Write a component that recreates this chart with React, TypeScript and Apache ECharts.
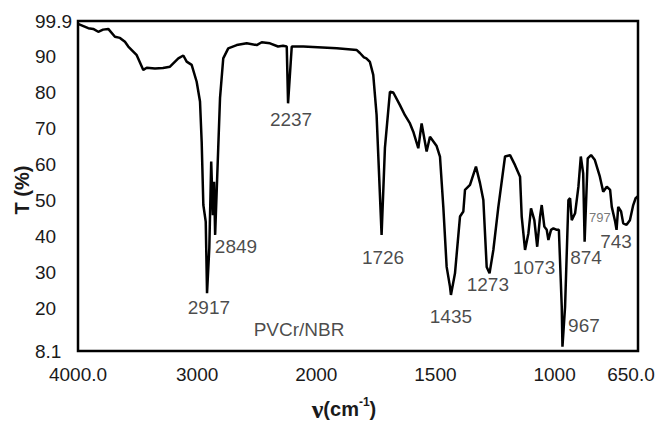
import React, { useEffect, useRef } from "react";
import * as echarts from "echarts";

// Spectrum: wavenumber (cm-1) and transmittance (%)
const WAVENUMBER = [
  4000, 3914, 3872, 3830, 3790, 3746, 3690, 3648, 3606, 3578, 3507, 3452, 3423, 3354, 3287, 3228,
  3158, 3116, 3088, 3046, 3004, 2976, 2962, 2948, 2928, 2917, 2898, 2882, 2868, 2858, 2849, 2823,
  2808, 2781, 2739, 2668, 2584, 2500, 2458, 2389, 2321, 2279, 2248, 2237, 2206, 2109, 1914, 1830,
  1817, 1800, 1790, 1775, 1761, 1747, 1726, 1712, 1691, 1677, 1649, 1628, 1607, 1593, 1572, 1558,
  1537, 1523, 1495, 1481, 1467, 1453, 1439, 1435, 1418, 1397, 1383, 1376, 1355, 1330, 1313, 1299,
  1285, 1273, 1257, 1236, 1208, 1187, 1166, 1145, 1138, 1124, 1110, 1099, 1085, 1073, 1061, 1054,
  1043, 1033, 1026, 1015, 1005, 991, 982, 970, 967, 956, 949, 942, 935, 928, 914, 900, 890, 880,
  874, 861, 847, 831, 810, 796, 781, 767, 760, 746, 740, 733, 721, 712, 698, 684, 670, 660, 650,
];
const TRANSMITTANCE = [
  99.1, 97.9, 97.7, 96.9, 97.5, 97.7, 95.5, 95.2, 94.1, 92.8, 90.4, 86.3, 86.9, 86.7, 86.8, 87.2,
  89.5, 90.3, 88.6, 87.7, 83.0, 77.5, 66.3, 48.7, 44.1, 24.2, 36.7, 60.8, 45.9, 55.2, 40.4, 64.6,
  78.5, 89.5, 92.3, 93.2, 93.7, 93.2, 94.0, 93.7, 92.8, 93.0, 92.8, 77.0, 92.8, 92.8, 92.3, 91.8,
  91.0, 89.8, 89.5, 88.5, 84.9, 73.8, 40.4, 64.6, 80.2, 80.0, 76.5, 73.7, 71.4, 69.1, 64.5, 71.4,
  63.6, 67.7, 65.1, 62.2, 48.2, 31.5, 26.0, 23.7, 29.7, 45.5, 46.9, 52.9, 54.3, 59.4, 54.8, 50.1,
  31.5, 29.7, 36.2, 48.2, 62.2, 62.6, 59.8, 56.6, 45.5, 36.2, 40.8, 47.8, 44.5, 37.1, 45.5, 48.7,
  42.7, 41.8, 39.0, 41.8, 42.2, 41.8, 41.8, 20.4, 9.3, 20.4, 35.3, 50.1, 50.6, 44.5, 46.4, 53.8, 62.2, 57.5,
  38.5, 61.7, 62.6, 61.2, 56.6, 52.4, 53.8, 52.9, 48.2, 44.1, 41.8, 48.2, 46.9, 43.6, 43.2, 44.5, 48.7, 50.6, 51.2,
];

// Axis ticks
const X_TICKS = [4000, 3000, 2000, 1500, 1000, 650];
const X_TICK_LABELS = ["4000.0", "3000", "2000", "1500", "1000", "650.0"];
const Y_TICKS = [8.1, 20, 30, 40, 50, 60, 70, 80, 90, 99.9];
const Y_TICK_LABELS = ["8.1", "20", "30", "40", "50", "60", "70", "80", "90", "99.9"];

// Peak annotations (text, and its anchor in data units: wavenumber, T%)
const PEAK_TEXT = ["2237", "2849", "2917", "1726", "1435", "1273", "1073", "874", "967", "743"];
const PEAK_TEXT_W = [2212, 2674, 2901, 1720, 1435, 1280, 1086, 868, 877, 742];
const PEAK_TEXT_T = [72.6, 37.1, 20.3, 34.0, 17.6, 26.7, 31.2, 34.0, 15.3, 38.7];
const SMALL_TEXT = ["797"];
const SMALL_TEXT_W = [810];
const SMALL_TEXT_T = [45.1];
const SAMPLE_TEXT = ["PVCr/NBR"];
const SAMPLE_TEXT_W = [2145];
const SAMPLE_TEXT_T = [14.2];

// Scale change at 2000 cm-1 (region below 2000 is expanded 2x)
const toX = (w: number) => (w >= 2000 ? 4000 - w : 2000 + (2000 - w) * 2);

const FONT = "'Liberation Sans', Arial, sans-serif";
const TXT = "#1a1a1a";

export default function App() {
  const ref = useRef<HTMLDivElement>(null);
  useEffect(() => {
    if (!ref.current) return;
    const chart = echarts.init(ref.current, null, { renderer: "svg" });
    const xTickVals = X_TICKS.map(toX);
    const labelSeries = (texts: string[], ws: number[], ts: number[], size: number, color: string) => ({
      type: "scatter",
      silent: true,
      symbolSize: 0.1,
      itemStyle: { color: "transparent" },
      z: 5,
      data: texts.map((t, i) => ({ name: t, value: [toX(ws[i]), ts[i]] })),
      label: {
        show: true,
        position: "inside",
        formatter: (p: any) => p.name,
        fontSize: size,
        fontFamily: FONT,
        color,
      },
    });
    chart.setOption({
      animation: false,
      grid: {
        left: 78,
        right: 21,
        top: 21,
        bottom: 73,
        show: true,
        borderColor: "#000",
        borderWidth: 2.5,
      },
      xAxis: {
        type: "value",
        min: 0,
        max: toX(650),
        interval: 1000,
        axisLine: { show: false },
        axisTick: { show: false },
        splitLine: { show: false },
        axisLabel: {
          customValues: xTickVals,
          margin: 14,
          fontSize: 19,
          fontFamily: FONT,
          color: TXT,
          formatter: (v: number) => {
            const i = xTickVals.findIndex((t) => Math.abs(t - v) < 1e-6);
            if (i < 0) return "";
            if (i === X_TICKS.length - 1) return "{r|" + X_TICK_LABELS[i] + "}";
            return X_TICK_LABELS[i];
          },
          rich: {
            r: { fontSize: 19, fontFamily: FONT, color: TXT, padding: [0, 14, 0, 0] },
          },
        },
      },
      yAxis: {
        type: "value",
        min: 8.1,
        max: 99.9,
        axisLine: { show: false },
        axisTick: { show: false },
        splitLine: { show: false },
        axisLabel: {
          customValues: Y_TICKS,
          align: "left",
          margin: 43,
          fontSize: 19,
          fontFamily: FONT,
          color: TXT,
          formatter: (v: number) => {
            const i = Y_TICKS.findIndex((t) => Math.abs(t - v) < 1e-6);
            return i < 0 ? "" : Y_TICK_LABELS[i];
          },
        },
      },
      graphic: [
        {
          type: "text",
          x: 22,
          y: 190,
          rotation: Math.PI / 2,
          style: {
            text: "T (%)",
            fontSize: 20,
            fontWeight: "bold",
            fontFamily: FONT,
            fill: TXT,
            align: "center",
            verticalAlign: "middle",
          },
        },
        {
          type: "text",
          x: 344,
          y: 409,
          style: {
            text: "{nu|ν}{b|(cm}{s|-1}{b|)}",
            align: "center",
            verticalAlign: "middle",
            fill: TXT,
            rich: {
              nu: { fontSize: 26, fontFamily: "'Liberation Serif', serif", fontWeight: "bold", fill: TXT },
              b: { fontSize: 20, fontFamily: FONT, fontWeight: "bold", fill: TXT },
              s: { fontSize: 12, fontFamily: FONT, fontWeight: "bold", fill: TXT, verticalAlign: "top" },
            },
          },
        },
      ],
      series: [
        {
          type: "line",
          data: WAVENUMBER.map((w, i) => [toX(w), TRANSMITTANCE[i]]),
          symbol: "none",
          silent: true,
          lineStyle: { color: "#000", width: 2.5 },
          z: 3,
        },
        labelSeries(PEAK_TEXT, PEAK_TEXT_W, PEAK_TEXT_T, 19, TXT),
        labelSeries(SMALL_TEXT, SMALL_TEXT_W, SMALL_TEXT_T, 13, "#555"),
        labelSeries(SAMPLE_TEXT, SAMPLE_TEXT_W, SAMPLE_TEXT_T, 19, TXT),
      ],
    });
    return () => chart.dispose();
  }, []);
  return (
    <div
      ref={ref}
      style={{ position: "absolute", left: 0, top: 0, width: 659, height: 424, background: "#fff" }}
    />
  );
}
